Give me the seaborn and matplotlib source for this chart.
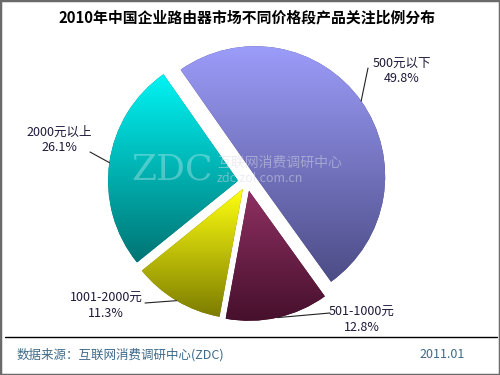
import matplotlib
matplotlib.use('Agg')
import matplotlib.pyplot as plt
from matplotlib.patches import Rectangle
import numpy as np
import seaborn as sns

sns.set_style('white')
plt.rcParams['font.family'] = ['Noto Sans CJK SC', 'DejaVu Sans']

# data
categories = ['500元以下', '501-1000元', '1001-2000元', '2000元以上']
shares = [49.8, 12.8, 11.3, 26.1]
top_colors = ['#9c9cfa', '#8e3062', '#ffff10', '#00f4f4']
bottom_colors = ['#4c4c86', '#46102c', '#7c7c00', '#007474']

title = '2010年中国企业路由器市场不同价格段产品关注比例分布'
source = '数据来源：互联网消费调研中心(ZDC)'
date = '2011.01'

# label layout in pixel space (x, y from top)
label_pos = [(402, 71), (362, 320), (106, 306), (59, 140)]
line_ends = [(368, 68), (330, 313), (145, 303), (90, 152)]

fig = plt.figure(figsize=(5, 3.75), dpi=100)
ax = fig.add_axes([0, 0, 1, 1])

H = 375
wedges, _ = ax.pie(shares, startangle=125, counterclock=False,
                   explode=[10, 9, 8, 9], radius=130, center=(247, H - 182),
                   colors=bottom_colors, wedgeprops=dict(linewidth=0))

grad = np.linspace(0, 1, 256)[:, None]
for w, c_top, c_bot in zip(wedges, top_colors, bottom_colors):
    bb = w.get_path().get_extents()
    cmap = sns.blend_palette([c_bot, c_top], as_cmap=True)
    im = ax.imshow(grad, cmap=cmap, origin='lower', aspect='auto',
                   extent=[bb.x0, bb.x1, bb.y0, bb.y1], zorder=2)
    im.set_clip_path(w)

# labels + leader lines
for w, name, val, (tx, ty), (lx, ly) in zip(wedges, categories, shares, label_pos, line_ends):
    mid = np.deg2rad((w.theta1 + w.theta2) / 2)
    cx, cy = w.center
    tip = (cx + w.r * np.cos(mid), cy + w.r * np.sin(mid))
    ax.plot([tip[0], lx], [tip[1], H - ly], color='#222222', lw=0.8, zorder=4)
    ax.text(tx, H - ty, f'{name}\n{val}%', ha='center', va='center',
            fontsize=9, color='#1e1a3a', linespacing=1.15, zorder=5)

# watermark
ax.text(172, H - 170, 'ZDC', fontsize=26, family='DejaVu Serif', color='white',
        alpha=0.3, ha='center', va='center', zorder=3)
ax.text(217, H - 163, '互联网消费调研中心', fontsize=10, color='#d8d8e8',
        alpha=0.5, ha='left', va='center', zorder=3)
ax.text(217, H - 178, 'zdc.zol.com.cn', fontsize=9, color='#d8d8e8',
        alpha=0.5, ha='left', va='center', zorder=3)

ax.text(247, H - 17, title, fontsize=10.7, fontweight='bold', ha='center',
        va='center', color='black')
ax.plot([5, 497], [H - 337, H - 337], color='black', lw=1)
ax.text(17, H - 355, source, fontsize=9, color='#3e6a8a', ha='left', va='center')
ax.text(465, H - 355, date, fontsize=9, color='#3e6a8a', ha='right', va='center')

ax.set_xlim(0, 500)
ax.set_ylim(0, H)
ax.set_aspect('equal')
ax.axis('off')
fig.patches.append(Rectangle((0, 0), 1, 1, transform=fig.transFigure,
                             fill=False, edgecolor='#6a6a6a', lw=2.5))

fig.savefig('out.png', dpi=100)
